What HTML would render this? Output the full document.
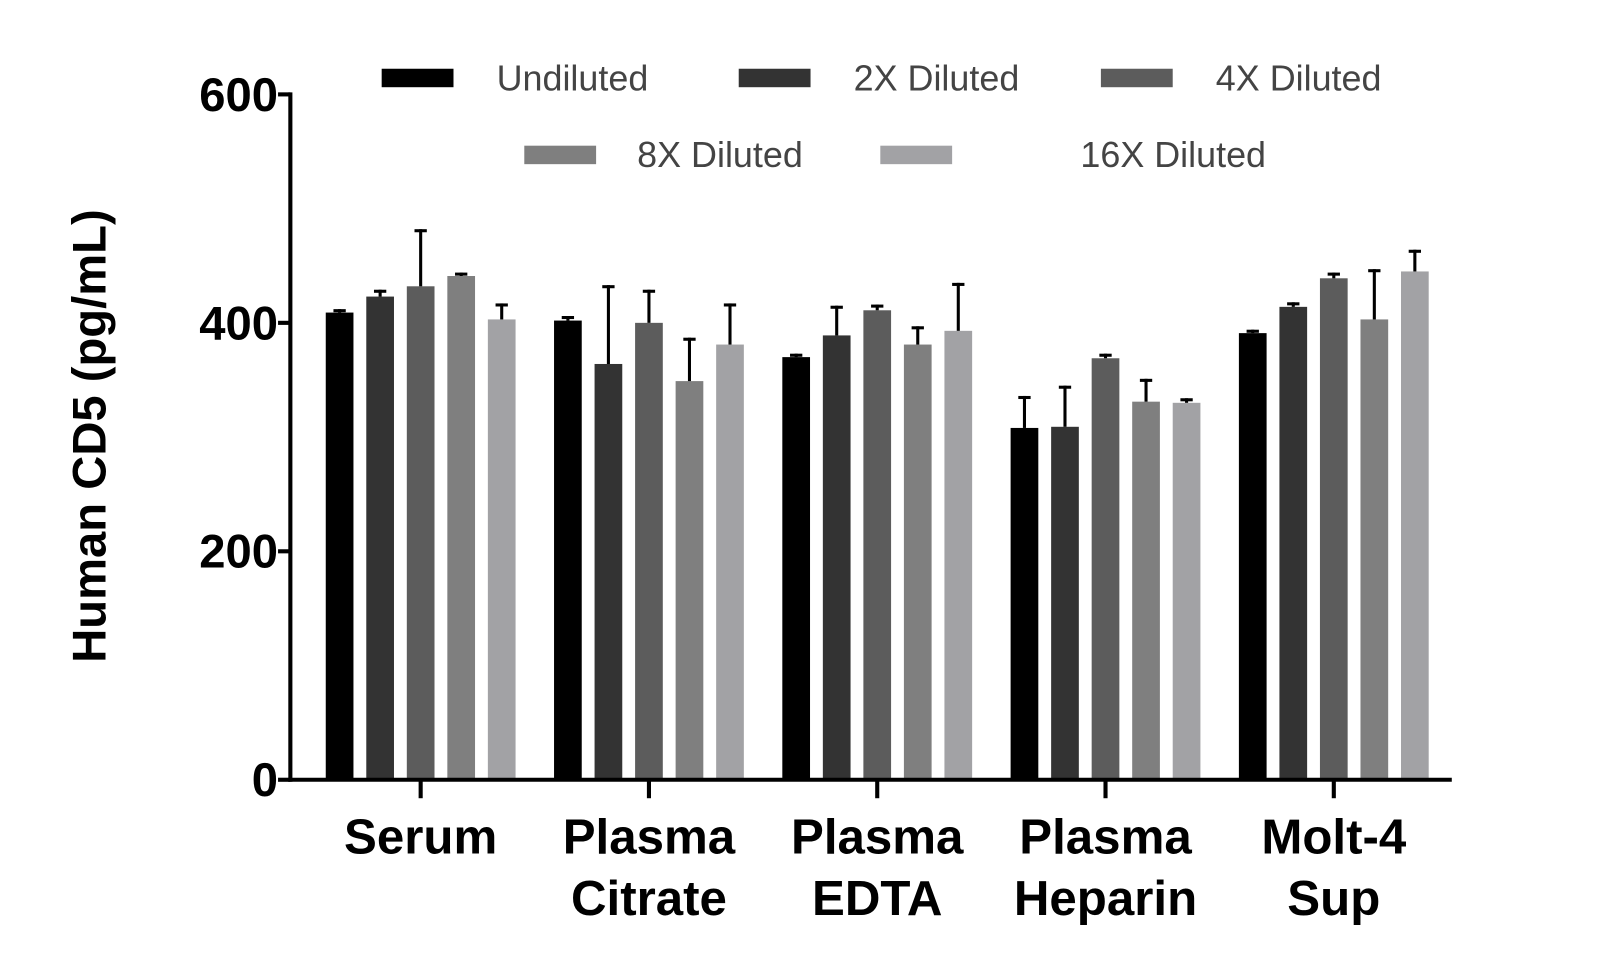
<!DOCTYPE html>
<html><head><meta charset="utf-8"><style>
html,body{margin:0;padding:0;background:#fff;}
svg{display:block;font-family:"Liberation Sans",sans-serif;}
</style></head><body>
<svg id="chart" width="1600" height="971" viewBox="0 0 1600 971" xmlns="http://www.w3.org/2000/svg">
<g id="root" transform="scale(1.026)">
<g id="bars"></g>
<g id="axes"></g>
<g id="legend"></g>
<text transform="translate(103,425) rotate(-90)" text-anchor="middle" font-size="46" font-weight="bold" fill="#000">Human CD5 (pg/mL)</text>
</g>
</svg>
<script>
const categories = [["Serum"],["Plasma","Citrate"],["Plasma","EDTA"],["Plasma","Heparin"],["Molt-4","Sup"]];
const seriesNames = ["Undiluted","2X Diluted","4X Diluted","8X Diluted","16X Diluted"];
const undiluted = [409, 402, 370, 308, 391];
const diluted2x = [423, 364, 389, 309, 414];
const diluted4x = [432, 400, 411, 369, 439];
const diluted8x = [441, 349, 381, 331, 403];
const diluted16x = [403, 381, 393, 330, 445];
const err1 = [412, 406, 373, 336, 394];
const err2 = [429, 433, 415, 345, 418];
const err4 = [482, 429, 416, 373, 444];
const err8 = [444, 387, 397, 351, 447];
const err16 = [417, 417, 435, 334, 464];
const yTicks = [0, 200, 400, 600];
const colors = ["#000000","#333333","#5c5c5c","#7f7f7f","#a2a2a5"];

const NS="http://www.w3.org/2000/svg";
const values=[undiluted,diluted2x,diluted4x,diluted8x,diluted16x];
const errs=[err1,err2,err4,err8,err16];
const y0=760, yTop=92, xL=283, xR=1415;
function yScale(v){return y0-(v/600)*(y0-yTop);}
const groupW=222.5;
function groupCenter(i){return xL+127+groupW*i;}
const pitch=39.5, bw=27;
function barX(g,s){return groupCenter(g)+(s-2)*pitch-bw/2;}
function mk(tag,attrs,parent){const e=document.createElementNS(NS,tag);for(const k in attrs)e.setAttribute(k,attrs[k]);parent.appendChild(e);return e;}
const bars=document.getElementById('bars');
values.forEach((ser,s)=>{ser.forEach((v,g)=>{
  const x=barX(g,s);
  const r=mk('rect',{x:x,y:yScale(v),width:bw,height:y0-yScale(v),fill:colors[s]},bars);
  
  
  const cx=x+bw/2, ey=yScale(errs[s][g]);
  const l=mk('line',{x1:cx,x2:cx,y1:yScale(v),y2:ey,stroke:'#000','stroke-width':3},bars);
  
  
  const c=mk('line',{x1:cx-6,x2:cx+6,y1:ey+1.5,y2:ey+1.5,stroke:'#000','stroke-width':3},bars);
  
  
});});
const axes=document.getElementById('axes');
mk('line',{x1:xL,x2:xL,y1:yTop-2,y2:y0+2,stroke:'#000','stroke-width':4},axes);
mk('line',{x1:xL-2,x2:xR,y1:y0,y2:y0,stroke:'#000','stroke-width':4},axes);
yTicks.forEach(t=>{
  const y=yScale(t);
  mk('line',{x1:xL-12,x2:xL,y1:y,y2:y,stroke:'#000','stroke-width':4},axes);
  const tx=mk('text',{x:xL-12,y:y+16,'text-anchor':'end','font-size':46,'font-weight':'bold',fill:'#000'},axes);
  tx.textContent=t;
  
  
});
categories.forEach((c,i)=>{
  const cx=groupCenter(i);
  mk('line',{x1:cx,x2:cx,y1:y0,y2:y0+18,stroke:'#000','stroke-width':4},axes);
  c.forEach((line,j)=>{
    const tx=mk('text',{x:cx,y:832+j*60,'text-anchor':'middle','font-size':48,'font-weight':'bold',fill:'#000'},axes);
    tx.textContent=line;
    
    
  });
});
const legend=document.getElementById('legend');
const legPos=[[372,76],[720,76],[1073,76],[511,151],[858,151]];
const textX=[484,832,1185,621,1053];
seriesNames.forEach((n,s)=>{
  const g=mk('g',{},legend);
  
  
  mk('rect',{x:legPos[s][0],y:legPos[s][1]-9,width:70,height:18,fill:colors[s]},g);
  const t=mk('text',{x:textX[s],y:legPos[s][1]+12,'font-size':35,fill:'#444'},g);
  t.textContent=n;
});
</script>
</body></html>
